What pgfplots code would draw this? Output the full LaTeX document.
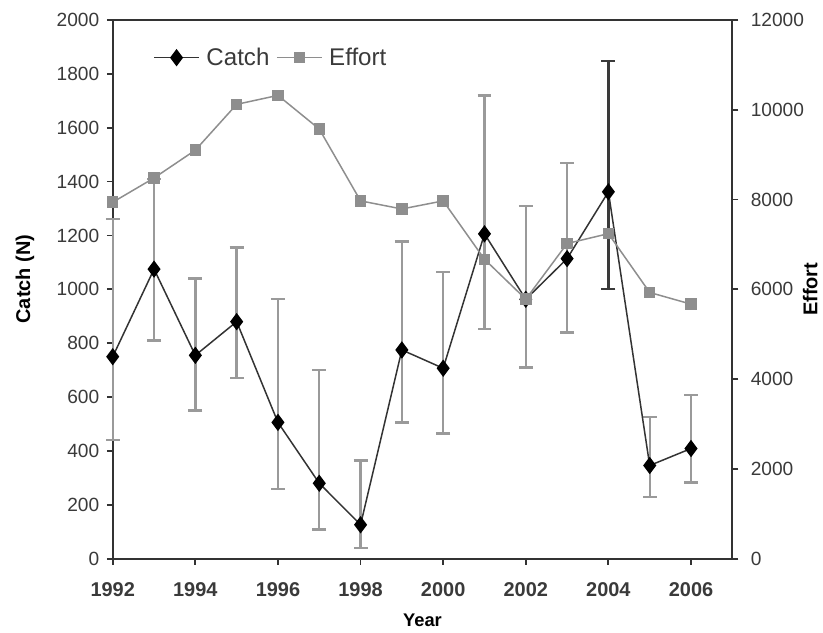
\documentclass[border=0pt]{standalone}
\usepackage{pgfplots}
\pgfplotsset{compat=1.18}
\usepackage{fontspec}
\setmainfont{Liberation Sans}
\definecolor{axgray}{HTML}{333333}
\definecolor{txtgray}{HTML}{3A3A3A}
\definecolor{effgray}{HTML}{8E8E8E}
\definecolor{errgray}{HTML}{9A9A9A}
\definecolor{errdark}{HTML}{3A3A3A}
\begin{document}
\begin{tikzpicture}
\pgfmathsetmacro{\u}{0.6}
\begin{axis}[
  name=main,
  scale only axis,
  width=372.6pt, height=324pt,
  xmin=1992, xmax=2007,
  ymin=0, ymax=2000,
  xtick={1992,1994,...,2006},
  ytick={0,200,...,2000},
  axis line style={axgray, line width=1.1pt},
  tick style={axgray, line width=1.1pt},
  tick align=outside,
  major tick length=3.6pt,
  xtick pos=bottom, ytick pos=left,
  /pgf/number format/assume math mode=true,
  /pgf/number format/1000 sep={},
  yticklabel style={font=\fontsize{11.5}{13}\selectfont, text=txtgray, xshift=-1pt},
  xticklabel style={font=\fontsize{12}{13}\selectfont\bfseries, text=txtgray, yshift=-7.5pt},
  xlabel={\bfseries Year},
  ylabel={\bfseries Catch (N)},
  xlabel style={font=\fontsize{11}{13}\selectfont, at={(axis description cs:0.5,-0.115)}, anchor=center},
  ylabel style={font=\fontsize{12}{14}\selectfont, at={(axis description cs:-0.1417,0.519)}, anchor=center},
  legend style={draw=none, fill=none, at={(axis description cs:0.065,0.93)}, anchor=west,
     font=\fontsize{14.5}{16}\selectfont, text=txtgray, legend columns=2,
     column sep=2pt, inner sep=0pt},
  legend image code/.code={
     \draw[#1, mark=none] (0cm,0cm) -- (0.95cm,0cm);
     \draw[#1, only marks] plot coordinates {(0.475cm,0cm)};
  },
  clip=false,
]
% grey error bars
\addplot[draw=none, mark=none, forget plot,
  error bars/.cd, y dir=both, y explicit,
  error bar style={errgray, line width=1.4pt},
  error mark options={rotate=90, mark size=4.2pt, errgray, line width=1.4pt}]
  table[x=x, y=y, y error plus=ep, y error minus=em] {
x y ep em
1992 750 510 310
1993 1075 335 265
1994 755 285 205
1995 880 275 210
1996 506 457 246
1997 280 420 171
1998 126 239 86
1999 775 402 269
2000 707 358 242
2001 1206 513 354
2002 963 346 253
2003 1114 355 274
2005 346 179 118
2006 409 198 126
};
% dark error bar 2004
\addplot[draw=none, mark=none, forget plot,
  error bars/.cd, y dir=both, y explicit,
  error bar style={errdark, line width=1.4pt},
  error mark options={rotate=90, mark size=4.2pt, errdark, line width=1.4pt}]
  table[x=x, y=y, y error plus=ep, y error minus=em] {
x y ep em
2004 1362 486 362
};
\addlegendimage{axgray, line width=0.9pt, mark=diamond*, mark size=4.5pt, mark options={fill=black, draw=black}}
\addlegendentry{Catch}
\addlegendimage{effgray, line width=0.9pt, mark=square*, mark size=3pt, mark options={fill=effgray, draw=effgray}}
\addlegendentry{Effort}
\addplot[axgray, line width=0.9pt, mark=diamond*, mark size=4.5pt, mark options={fill=black, draw=black}, forget plot]
  table {
1992 750
1993 1075
1994 755
1995 880
1996 506
1997 280
1998 126
1999 775
2000 707
2001 1206
2002 963
2003 1114
2004 1362
2005 346
2006 409
};
\end{axis}
\begin{axis}[
  scale only axis,
  width=372.6pt, height=324pt,
  xmin=1992, xmax=2007,
  ymin=0, ymax=12000,
  axis x line=none,
  axis y line*=right,
  ytick={0,2000,...,12000},
  scaled y ticks=false,
  axis line style={axgray, line width=1.1pt},
  tick style={axgray, line width=1.1pt},
  tick align=outside,
  major tick length=3.6pt,
  /pgf/number format/assume math mode=true,
  /pgf/number format/1000 sep={},
  /pgf/number format/fixed,
  yticklabel style={font=\fontsize{11.5}{13}\selectfont, text=txtgray, xshift=4pt},
  ylabel={\bfseries Effort},
  ylabel style={font=\fontsize{12}{14}\selectfont, at={(axis description cs:1.1256,0.5)}, anchor=center},
  clip=false,
]
\addplot[effgray, line width=0.9pt, mark=square*, mark size=3pt, mark options={fill=effgray, draw=effgray}]
  table {
1992 7940
1993 8480
1994 9100
1995 10120
1996 10320
1997 9570
1998 7970
1999 7790
2000 7970
2001 6670
2002 5780
2003 7020
2004 7240
2005 5930
2006 5670
};
\end{axis}
\path (main.south west) ++(-113*\u pt, -74*\u pt) coordinate (bbA);
\path (main.north east) ++(89*\u pt, 20*\u pt) coordinate (bbB);
\path[use as bounding box] (bbA) rectangle (bbB);
\end{tikzpicture}
\end{document}
